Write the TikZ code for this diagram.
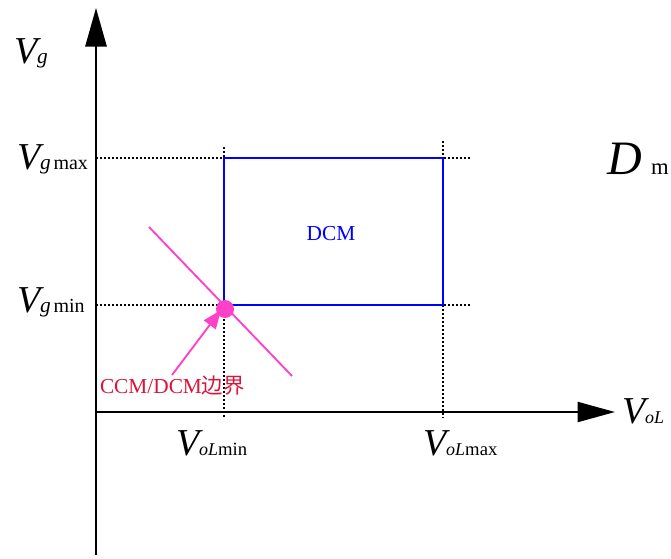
\documentclass[tikz,border=0pt]{standalone}
\usepackage{fontspec}
\setmainfont{Liberation Serif}
\newfontfamily\cjkfont{Noto Sans CJK SC}
\usetikzlibrary{arrows.meta}
\definecolor{pinkline}{RGB}{255,64,200}
\definecolor{crim}{RGB}{220,20,60}
\newcommand\BigV{{\fontsize{28.5}{30}\selectfont\itshape V}}
\newcommand\SubI[1]{{\fontsize{16}{18}\selectfont\itshape #1}}
\newcommand\SubR[1]{{\fontsize{15}{17}\selectfont #1}}
\newcommand\SubS[1]{{\fontsize{13.5}{16}\selectfont\itshape #1}}
\newcommand\SubT[1]{{\fontsize{14}{16}\selectfont #1}}
\tikzset{
  axis/.style={line width=1.5pt, black},
  dotline/.style={line width=1.4pt, black, dash pattern=on 1.4pt off 1.6pt},
  lbl/.style={anchor=base west, inner sep=0pt, outer sep=0pt},
  pinkl/.style={line width=1.4pt, pinkline},
}
\begin{document}
\begin{tikzpicture}[x=0.75pt,y=-0.75pt]
\useasboundingbox (0,0) rectangle (671,558);
% coordinates
\coordinate (O) at (96,412);
\coordinate (Ytop) at (96,8);
\coordinate (Ybot) at (96,555);
\coordinate (Xend) at (615,412);
\coordinate (Lmax) at (96,158);
\coordinate (Lmin) at (96,305);
\coordinate (Rmax) at (471,158);
\coordinate (Rmin) at (471,305);
\coordinate (V1t) at (224,147);
\coordinate (V1b) at (224,418);
\coordinate (V2t) at (443,141);
\coordinate (V2b) at (443,418);
\coordinate (A) at (224,158);
\coordinate (B) at (443,305);
\coordinate (P1) at (149,227);
\coordinate (P2) at (292,376);
\coordinate (Ast) at (172,375);
\coordinate (Atip) at (221,310);
% dotted guide lines
\draw[dotline] (Lmax) -- (Rmax);
\draw[dotline] (Lmin) -- (Rmin);
\draw[dotline] (V1t) -- (V1b);
\draw[dotline] (V2t) -- (V2b);
% axes
\draw[axis, -{Triangle[length=29pt,width=16pt]}] (Ybot) -- (Ytop);
\draw[axis, -{Triangle[length=28pt,width=15pt]}] (O) -- (Xend);
% DCM rectangle
\draw[blue, line width=1.5pt] (A) rectangle (B);
\node[text=blue, font=\fontsize{16}{18}\selectfont] (dcm) at (331,234) {DCM};
% boundary
\draw[pinkl] (P1) -- (P2);
\node[circle, fill=pinkline, minimum size=13.5pt, inner sep=0pt] (dot) at (225,309) {};
\draw[pinkl, -{Triangle[length=14pt,width=11pt]}] (Ast) -- (Atip);
\node[lbl, text=crim, font=\fontsize{16}{18}\selectfont] (bd) at (100,393) {CCM/DCM{\cjkfont 边界}};
% labels
\node[lbl] (vg) at (14,63) {\BigV\SubI{g}};
\node[lbl] (vgmax) at (17,169) {\BigV\SubI{g}\hspace{2pt}\SubR{max}};
\node[lbl] (vgmin) at (17,312) {\BigV\SubI{g}\hspace{2pt}\SubR{min}};
\node[lbl] (volmin) at (176,455) {\BigV\SubS{oL}\SubT{min}};
\node[lbl] (volmax) at (423,455) {\BigV\SubS{oL}\SubT{max}};
\node[lbl] (vol) at (622,423) {\BigV\SubS{oL}};
\node[lbl] (dm) at (607,174) {{\fontsize{36}{38}\selectfont\itshape D}\hspace{7pt}{\fontsize{17}{19}\selectfont m}};
\end{tikzpicture}
\end{document}
